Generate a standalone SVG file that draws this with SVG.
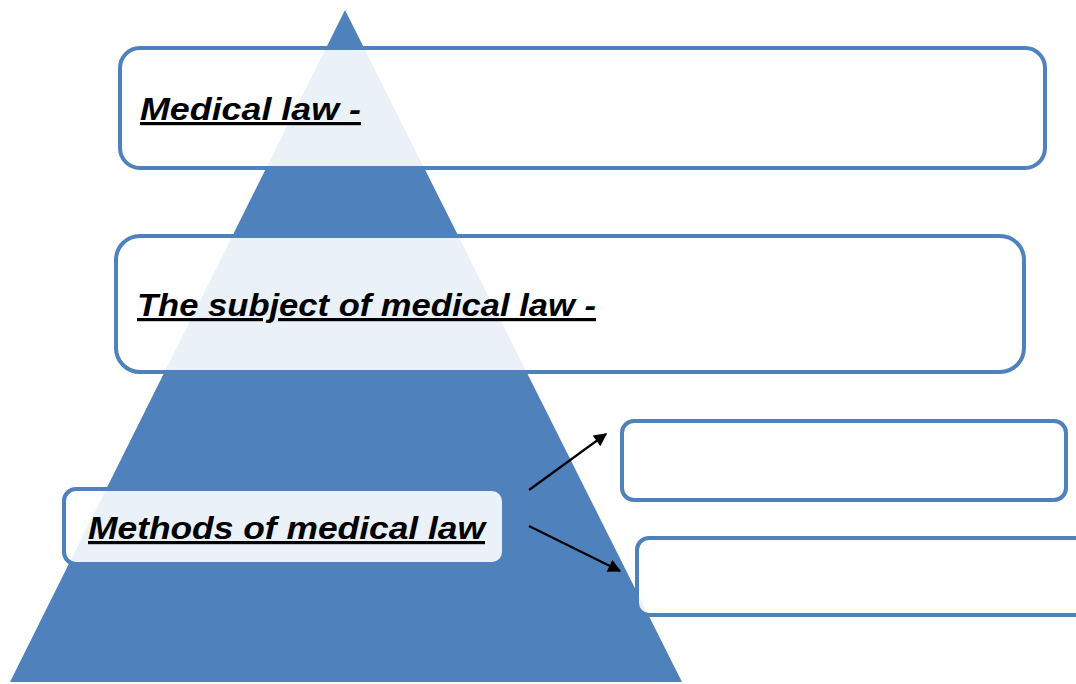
<svg xmlns="http://www.w3.org/2000/svg" width="1076" height="684" viewBox="0 0 1076 684">
<defs>
<style>
.box{fill:#ffffff;fill-opacity:0.89;stroke:#4F81BD;stroke-width:4}
.lbl{font-family:"Liberation Sans",Arial,sans-serif;font-weight:bold;font-style:italic;font-size:32px;fill:#000;text-decoration:underline}
.conn{stroke:#000;stroke-width:2.2;fill:none}
</style>
<marker id="ah" viewBox="0 0 10 10" refX="9" refY="5" markerWidth="15" markerHeight="13" markerUnits="userSpaceOnUse" orient="auto">
<path d="M0,0 L10,5 L0,10 z" fill="#000"/>
</marker>
</defs>
<rect width="1076" height="684" fill="#ffffff"/>
<polygon id="pyramid" points="345,10 682,682 10,682" fill="#4F81BD"/>
<g id="node-medical-law">
<rect class="box" x="120" y="48" width="925" height="120" rx="20"/>
<text class="lbl" x="140" y="120" textLength="221" lengthAdjust="spacingAndGlyphs">Medical law -</text>
</g>
<g id="node-subject">
<rect class="box" x="116" y="236" width="908" height="136" rx="24"/>
<text class="lbl" x="137" y="316" textLength="459" lengthAdjust="spacingAndGlyphs">The subject of medical law -</text>
</g>
<g id="node-methods">
<rect class="box" x="64" y="489" width="440" height="75" rx="12"/>
<text class="lbl" x="88" y="539" textLength="397" lengthAdjust="spacingAndGlyphs">Methods of medical law</text>
</g>
<g id="node-method-1">
<rect class="box" x="622" y="421" width="444" height="79" rx="12"/>
</g>
<g id="node-method-2">
<rect class="box" x="637" y="538" width="450" height="77" rx="12"/>
</g>
<g id="connectors">
<line class="conn" x1="529" y1="490" x2="606" y2="434" marker-end="url(#ah)"/>
<line class="conn" x1="529" y1="526" x2="620" y2="571" marker-end="url(#ah)"/>
</g>
</svg>
